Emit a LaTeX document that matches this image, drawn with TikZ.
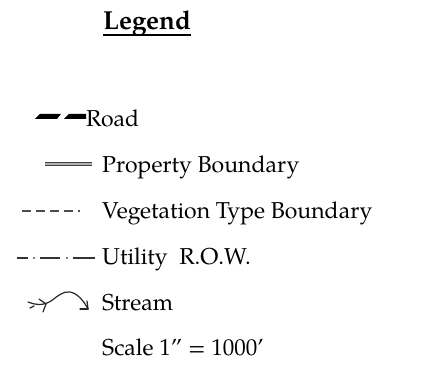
\documentclass[tikz,border=0pt]{standalone}
\usepackage{fontspec}
\setmainfont{TeX Gyre Pagella}
\usetikzlibrary{arrows.meta}
\begin{document}
\begin{tikzpicture}[x=1pt,y=-1pt,
  lbl/.style={anchor=base west,inner sep=0pt,font=\fontsize{23}{26}\selectfont},
  roadline/.style={fill=black},
  propline/.style={draw=black!75,line width=1.4pt,double=black!30,double distance=1.3pt},
  vegline/.style={draw=black!70,line width=1.8pt,dash pattern=on 9pt off 5pt},
  utilline/.style={draw=black!80,line width=1.2pt},
  streamline/.style={draw=black!85,line width=1.2pt,line cap=round}]
\useasboundingbox (0,0) rectangle (432,371);

% title
\node[anchor=base,inner sep=0pt,font=\fontsize{26}{30}\selectfont\bfseries] (title) at (147,30) {Legend};
\draw[line width=1.3pt] ([yshift=-5pt]title.base west) -- ([yshift=-5pt]title.base east);

% road: two heavy dashes with slanted ends
\fill[roadline] (35,119) -- (40,114) -- (61,114) -- (57,119) -- cycle;
\fill[roadline] (64,119) -- (69,114) -- (86,114) -- (86,119) -- cycle;
\node[lbl] (road) at (86,127) {Road};

% property boundary
\draw[propline] (45,164) -- (92,164);
\node[lbl] (prop) at (102,173) {Property Boundary};

% vegetation type boundary
\draw[vegline] (22,211) -- (80,211);
\node[lbl] (veg) at (102,219) {Vegetation Type Boundary};

% utility right-of-way: dash-dot
\draw[utilline] (17,258) -- (28,258);
\fill (34,258) circle (0.9);
\draw[utilline] (40,258) -- (60,258);
\fill (67,258) circle (0.9);
\draw[utilline] (73,258) -- (95,258);
\node[lbl] (util) at (102,265) {Utility\ \ R.O.W.};

% stream with small tributaries and arrow
\draw[streamline] (28,302) .. controls (35,305) and (43,306) .. (51,301)
      .. controls (58,296) and (63,291) .. (70,292)
      .. controls (77,293) and (84,301) .. (88,309);
\draw[streamline] (88,309) -- (80,309);
\draw[streamline] (88,309) -- (87,301);
\draw[streamline] (39,299) -- (46,304);
\draw[streamline] (46,304) -- (43,312);
\draw[streamline] (34,306) -- (30,308);
\node[lbl] (stream) at (102,311) {Stream};

% scale
\node[lbl] (scale) at (102,356) {Scale 1\char"0022{} = 1000\char"0027};
\end{tikzpicture}
\end{document}
